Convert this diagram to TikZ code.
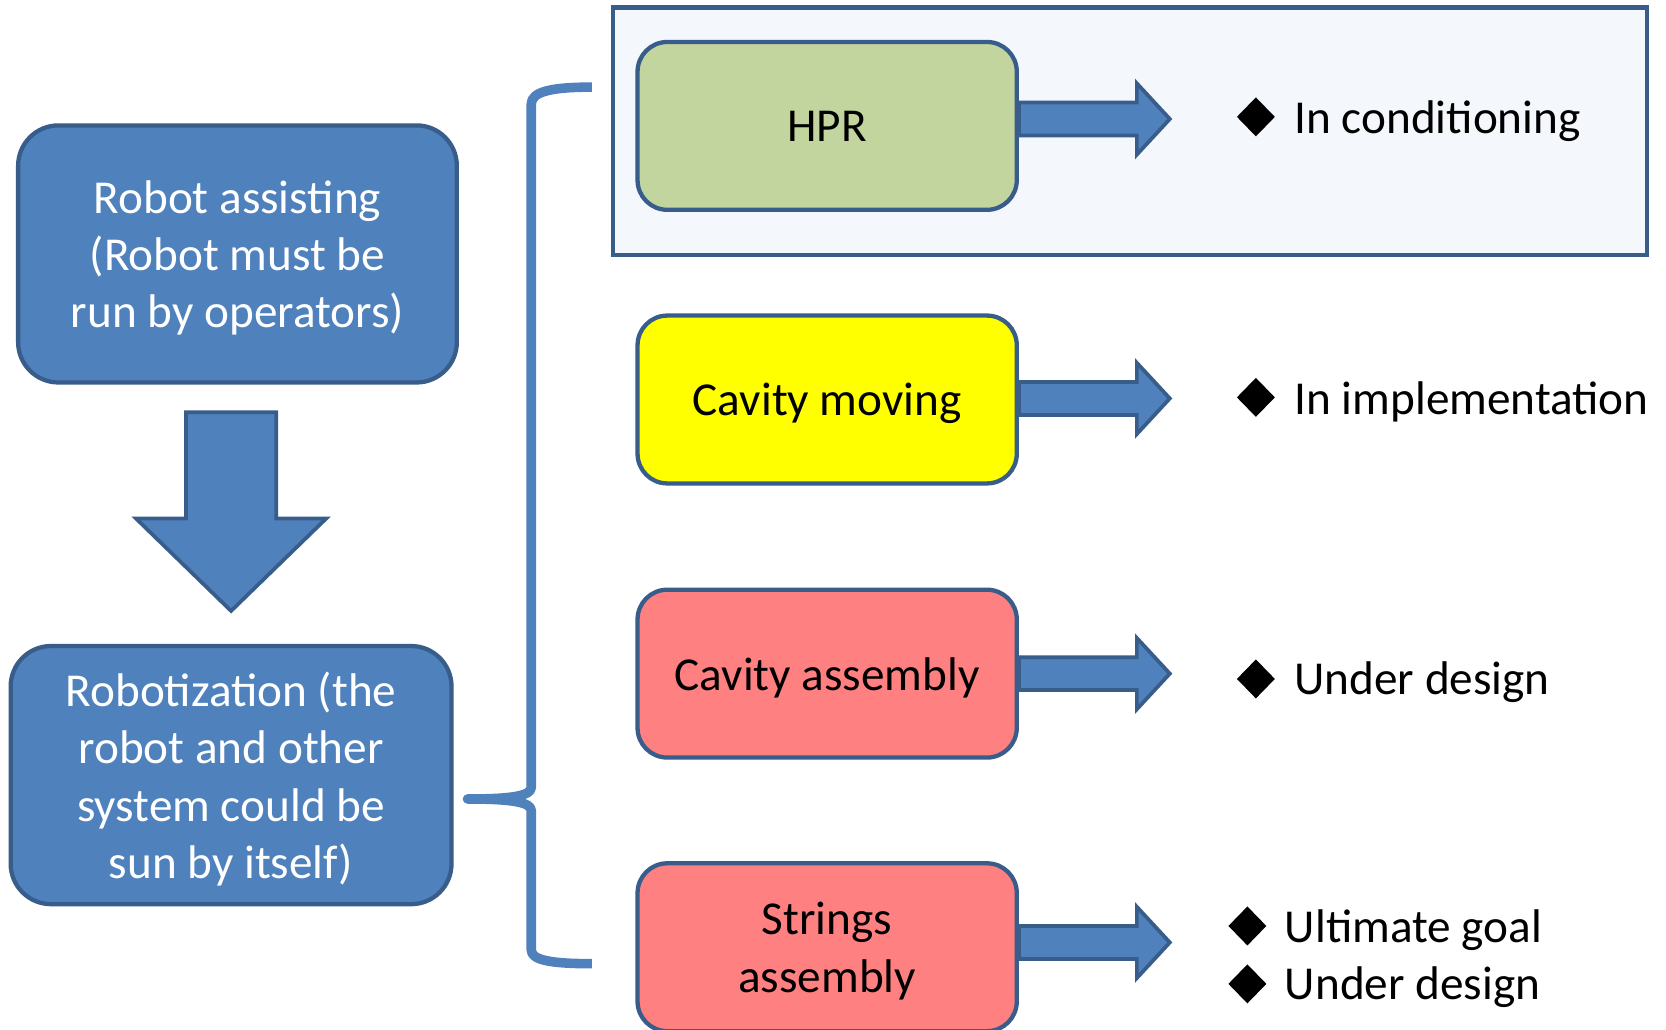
\documentclass[tikz,border=0pt]{standalone}
\usepackage{fontspec}
\setmainfont{Carlito}
\usetikzlibrary{shapes.geometric}
\definecolor{boxblue}{HTML}{4F81BD}
\definecolor{bordblue}{HTML}{385D8A}
\definecolor{framebg}{HTML}{F4F7FB}
\definecolor{hprgreen}{HTML}{C2D59F}
\definecolor{boxyellow}{HTML}{FFFF00}
\definecolor{boxred}{HTML}{FF8080}
\begin{document}
\begin{tikzpicture}[x=0.02cm,y=-0.02cm,
  bigtext/.style={font=\fontsize{25.3}{30.7}\selectfont},
  leftbox/.style={bigtext, draw=bordblue, fill=boxblue, line width=2.3pt, rounded corners=0.76cm, text=white, align=center, inner sep=0pt, text depth=0pt},
  rbox/.style={bigtext, draw=bordblue, line width=2.3pt, rounded corners=0.56cm, minimum width=7.14cm, minimum height=3.16cm, align=center, inner sep=0pt, text depth=0pt},
  barrow/.style={draw=bordblue, fill=boxblue, line width=2pt, line join=miter},
  bulletmark/.style={shape=diamond, fill=black, minimum width=0.72cm, minimum height=0.74cm, inner sep=0pt},
  status/.style={bigtext, anchor=base west, inner sep=0pt},
  bracestyle/.style={draw=boxblue, line width=0.18cm, line join=round}
]
\fill[white] (0,0) rectangle (1568,969);
\clip (0,0) rectangle (1568,969);

% frame around HPR row
\node[draw=bordblue, fill=framebg, line width=2.3pt, minimum width=19.46cm, minimum height=4.66cm, inner sep=0pt] (frame) at (1063.5,123.5) {};

% left boxes
\node[leftbox, minimum width=8.26cm, minimum height=4.84cm] (rob1) at (223.5,239)
  {Robot assisting\\(Robot must be\\run by operators)};
\node[leftbox, minimum width=8.3cm, minimum height=4.86cm] (rob2) at (217.5,729.5)
  {Robotization (the\\robot and other\\system could be\\sun by itself)};

% down block arrow
\draw[barrow] (175,388) -- (260,388) -- (260,488) -- (307,488) -- (217.5,575)
  -- (128,488) -- (175,488) -- cycle;

% brace
\draw[bracestyle] (557,82) .. controls (520,82) and (500,86) .. (500,98)
  -- (500,741) .. controls (500,749) and (482,752) .. (440,752)
  .. controls (482,752) and (500,755) .. (500,763)
  -- (500,894) .. controls (500,904) and (520,907) .. (557,907);

% right boxes
\node[rbox, fill=hprgreen] (hpr) at (778.5,118.5) {HPR};
\node[rbox, fill=boxyellow] (mov) at (778.5,376) {Cavity moving};
\node[rbox, fill=boxred] (cas) at (778.5,634) {Cavity assembly};
\node[rbox, fill=boxred] (str) at (778.5,891.5) {Strings\\assembly};

% right block arrows
\foreach \b/\dy in {hpr/-6.5, mov/-1, cas/0, str/-4.5}{
  \draw[barrow, shift={(\b.east)}] (0,\dy-15.5) -- ++(111,0) -- ++(0,-18)
    -- ++(31,33.5) -- ++(-31,33.5) -- ++(0,-18) -- ++(-111,0) -- cycle;
}

% status texts
\node[bulletmark] (d1) at (1182,110) {};
\node[status] (s1) at (1218,125.5) {In conditioning};
\node[bulletmark] (d2) at (1182,374) {};
\node[status] (s2) at (1218,390) {In implementation};
\node[bulletmark] (d3) at (1182,639) {};
\node[status] (s3) at (1218,654) {Under design};
\node[bulletmark] (d4) at (1174,871.5) {};
\node[status] (s4) at (1209,887) {Ultimate goal};
\node[bulletmark] (d5) at (1174,926) {};
\node[status] (s5) at (1209,941) {Under design};
\end{tikzpicture}
\end{document}
